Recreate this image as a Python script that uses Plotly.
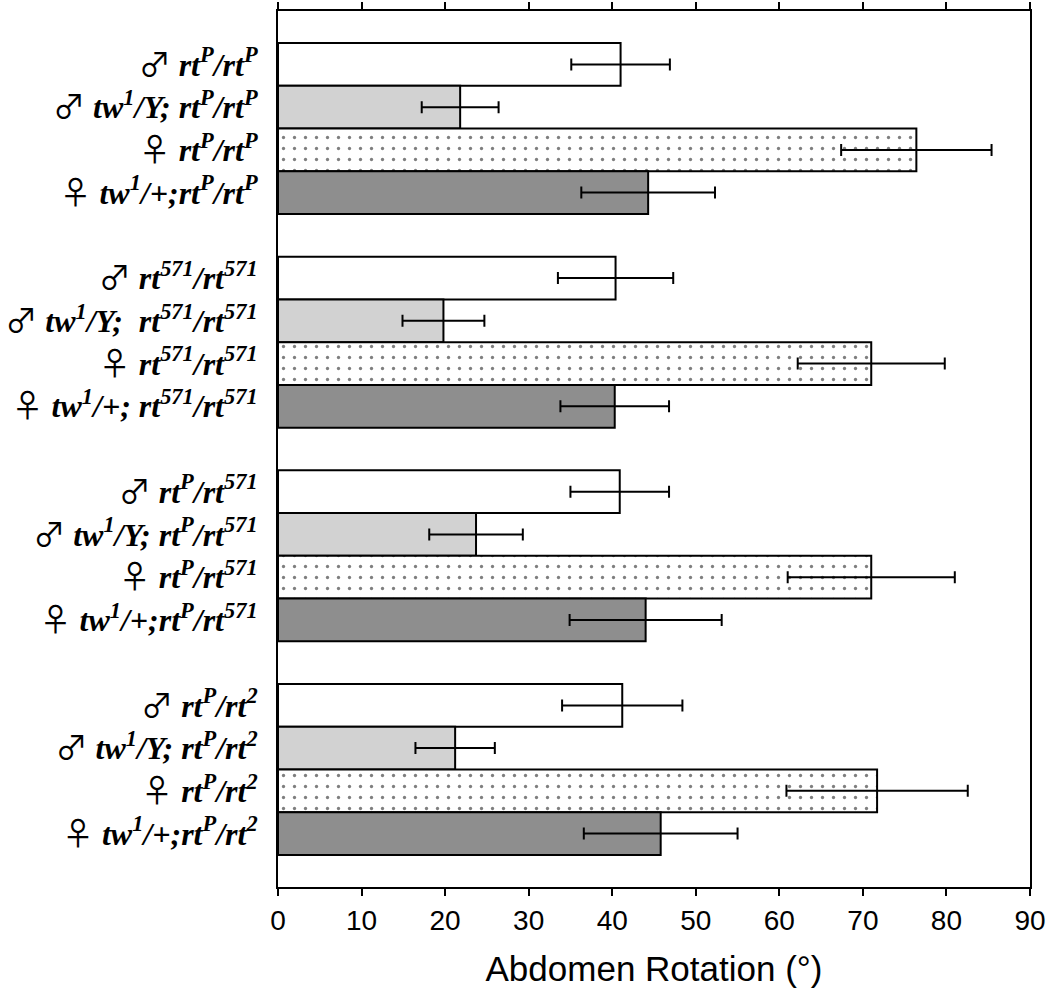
import plotly.graph_objects as go

# Data
groups = ["rt<sup>P</sup>/rt<sup>P</sup>", "rt<sup>571</sup>/rt<sup>571</sup>",
          "rt<sup>P</sup>/rt<sup>571</sup>", "rt<sup>P</sup>/rt<sup>2</sup>"]

SYM_STYLE = "font-family:'Noto Sans CJK JP';font-weight:normal;font-style:normal;font-size:32px"
MALE = "<span style=\"" + SYM_STYLE + "\">♂</span>"
FEMALE = "<span style=\"" + SYM_STYLE + "\">♀</span>"

genotypes = [
    ("m", "rt<sup>P</sup>/rt<sup>P</sup>"),
    ("m", "tw<sup>1</sup>/Y; rt<sup>P</sup>/rt<sup>P</sup>"),
    ("f", "rt<sup>P</sup>/rt<sup>P</sup>"),
    ("f", "tw<sup>1</sup>/+;rt<sup>P</sup>/rt<sup>P</sup>"),
    ("m", "rt<sup>571</sup>/rt<sup>571</sup>"),
    ("m", "tw<sup>1</sup>/Y;  rt<sup>571</sup>/rt<sup>571</sup>"),
    ("f", "rt<sup>571</sup>/rt<sup>571</sup>"),
    ("f", "tw<sup>1</sup>/+; rt<sup>571</sup>/rt<sup>571</sup>"),
    ("m", "rt<sup>P</sup>/rt<sup>571</sup>"),
    ("m", "tw<sup>1</sup>/Y; rt<sup>P</sup>/rt<sup>571</sup>"),
    ("f", "rt<sup>P</sup>/rt<sup>571</sup>"),
    ("f", "tw<sup>1</sup>/+;rt<sup>P</sup>/rt<sup>571</sup>"),
    ("m", "rt<sup>P</sup>/rt<sup>2</sup>"),
    ("m", "tw<sup>1</sup>/Y; rt<sup>P</sup>/rt<sup>2</sup>"),
    ("f", "rt<sup>P</sup>/rt<sup>2</sup>"),
    ("f", "tw<sup>1</sup>/+;rt<sup>P</sup>/rt<sup>2</sup>"),
]
labels = [(MALE if s == "m" else FEMALE) + " <b><i>" + g + "</i></b>" for s, g in genotypes]

male_vals = [41.0, 40.4, 40.9, 41.2]
male_err = [5.9, 6.9, 5.9, 7.2]
male_tw_vals = [21.8, 19.8, 23.7, 21.2]
male_tw_err = [4.6, 4.9, 5.6, 4.75]
female_vals = [76.4, 71.0, 71.0, 71.7]
female_err = [9.0, 8.8, 10.0, 10.85]
female_tw_vals = [44.3, 40.3, 44.0, 45.8]
female_tw_err = [8.0, 6.5, 9.1, 9.2]

x_ticks = [0, 10, 20, 30, 40, 50, 60, 70, 80, 90]


def pos(offset):
    return [5 * g + offset for g in range(len(groups))]


all_pos = [5 * g + k for g in range(len(groups)) for k in range(4)]

fig = go.Figure()

series = [
    (male_vals, male_err, "white", None),
    (male_tw_vals, male_tw_err, "#d2d2d2", None),
    (female_vals, female_err, "white", "."),
    (female_tw_vals, female_tw_err, "#8e8e8e", None),
]

for k, (vals, errs, color, pat) in enumerate(series):
    marker = dict(color=color, line=dict(color="black", width=2))
    if pat:
        marker["pattern"] = dict(shape=".", fgcolor="black", bgcolor="white",
                                 size=11, solidity=0.07)
    fig.add_trace(go.Bar(
        x=vals, y=pos(k), orientation="h", width=1,
        marker=marker,
        error_x=dict(type="data", array=errs, visible=True,
                     color="black", thickness=2, width=6),
        showlegend=False,
    ))

fig.update_layout(
    width=1051, height=990,
    margin=dict(l=278, r=21, t=11, b=103),
    paper_bgcolor="white", plot_bgcolor="white",
    barmode="overlay",
    xaxis=dict(
        range=[0, 90], tickvals=x_ticks, ticktext=[str(v) for v in x_ticks],
        ticks="outside", ticklen=7, tickwidth=2, tickcolor="black",
        showline=True, linecolor="black", linewidth=2, mirror="ticks",
        showgrid=False, zeroline=False, automargin=False,
        tickfont=dict(family="Liberation Sans, Arial", size=28, color="black"),
        title=dict(text="Abdomen Rotation (°)", standoff=22,
                   font=dict(family="Liberation Sans, Arial", size=35, color="black")),
    ),
    yaxis=dict(
        range=[19.25, -1.25], tickvals=all_pos, ticktext=labels,
        ticks="", showline=True, linecolor="black", linewidth=2, mirror=True,
        showgrid=False, zeroline=False, ticklabelstandoff=12, automargin=False,
        tickfont=dict(family="Liberation Serif", size=32, color="black"),
    ),
)

fig.write_html("out.html")
